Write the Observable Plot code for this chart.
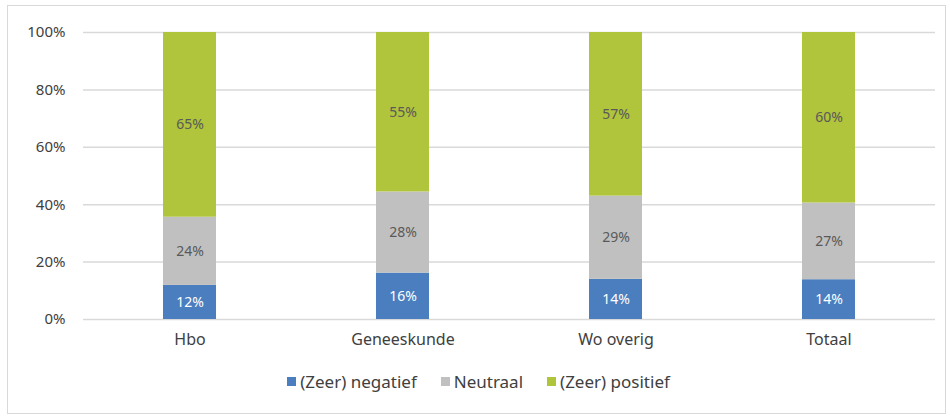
<!DOCTYPE html>
<html>
<head>
<meta charset="utf-8">
<script src="https://cdn.jsdelivr.net/npm/d3@7"></script>
<script src="https://cdn.jsdelivr.net/npm/@observablehq/plot@0.6"></script>
<style>
  html, body { margin: 0; padding: 0; background: #fff; }
  #frame { position: absolute; left: 7px; top: 5px; width: 939px; height: 409px; border: 1px solid #d9d9d9; box-sizing: border-box; font-family: "Noto Sans", "Open Sans", sans-serif; }
  #legend { display: flex; justify-content: center; gap: 24px; font-size: 17px; color: #404040; margin-left: 4px; margin-top: 6px; }
  #legend span.item { display: flex; align-items: center; }
  #legend span.sw { width: 9px; height: 9px; margin-right: 4px; display: inline-block; }
</style>
</head>
<body>
<div id="frame"><div id="chart"></div><div id="legend"></div></div>
<script>
const categories = ["Hbo", "Geneeskunde", "Wo overig", "Totaal"];
const seriesNames = ["(Zeer) negatief", "Neutraal", "(Zeer) positief"];
const negatief = [12, 16, 14, 14];
const neutraal = [24, 28, 29, 27];
const positief = [65, 55, 57, 60];
const colors = ["#4a7ebf", "#c0c0c0", "#b0c43c"];
const labelColors = ["#ffffff", "#595959", "#595959"];
const yTicks = [0, 0.2, 0.4, 0.6, 0.8, 1.0];

const seriesValues = [negatief, neutraal, positief];
const data = [];
seriesValues.forEach((vals, s) => {
  vals.forEach((v, i) => data.push({cat: categories[i], series: seriesNames[s], value: v}));
});

const stackOpts = {x: "cat", y: "value", z: "series", order: seriesNames, offset: "normalize"};

const chart = Plot.plot({
  width: 937,
  height: 358,
  marginLeft: 75,
  marginRight: 10,
  marginTop: 26,
  marginBottom: 45,
  style: {fontFamily: "'Noto Sans', 'Open Sans', sans-serif", fontSize: "14px", color: "#404040", background: "#fff"},
  x: {domain: categories, paddingInner: 0.75, paddingOuter: 0.375, align: 0.5, label: null, tickSize: 0, tickPadding: 14},
  y: {domain: [0, 1], ticks: yTicks, tickFormat: d => Math.round(d * 100) + "%", label: null, tickSize: 0, tickPadding: 18},
  color: {domain: seriesNames, range: colors},
  marks: [
    Plot.ruleY(yTicks, {stroke: "#d9d9d9", strokeWidth: 1.5}),
    Plot.barY(data, Plot.stackY({...stackOpts, fill: "series", inset: 0})),
    Plot.text(data, Plot.stackY({...stackOpts, y: "value", text: d => d.value + "%", fill: d => labelColors[seriesNames.indexOf(d.series)], fontSize: 14})),
    Plot.axisX({tickSize: 0, tickPadding: 14, fontSize: 16, fill: "#404040"}),
    Plot.axisY({ticks: yTicks, tickFormat: d => Math.round(d * 100) + "%", tickSize: 0, tickPadding: 18, fontSize: 15, fill: "#404040"})
  ]
});
document.getElementById("chart").appendChild(chart);

const legend = document.getElementById("legend");
seriesNames.forEach((name, i) => {
  const item = document.createElement("span");
  item.className = "item";
  const sw = document.createElement("span");
  sw.className = "sw";
  sw.style.background = colors[i];
  item.appendChild(sw);
  item.appendChild(document.createTextNode(name));
  legend.appendChild(item);
});
</script>
</body>
</html>
